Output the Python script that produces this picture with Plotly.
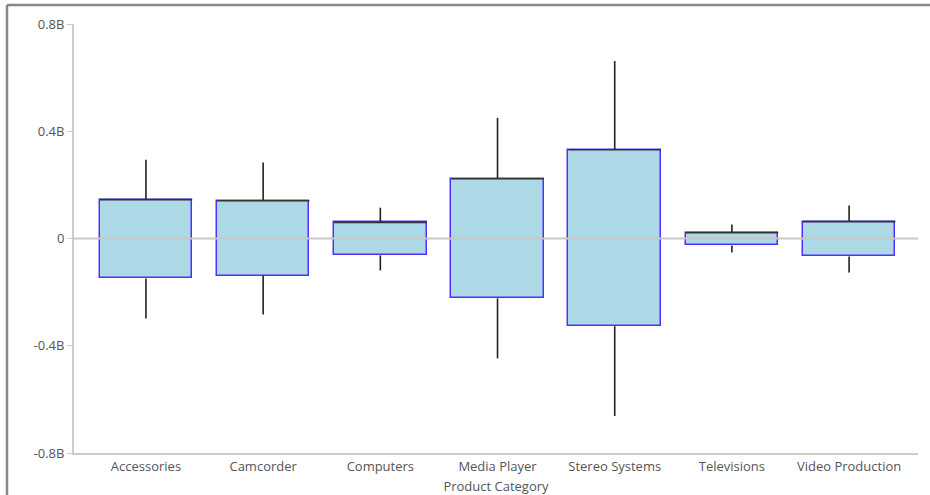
import plotly.graph_objects as go

categories = ["Accessories", "Camcorder", "Computers", "Media Player",
              "Stereo Systems", "Televisions", "Video Production"]
whisker_high = [0.294e9, 0.283e9, 0.115e9, 0.450e9, 0.662e9, 0.052e9, 0.123e9]
box_high = [0.145e9, 0.141e9, 0.060e9, 0.223e9, 0.331e9, 0.022e9, 0.063e9]
box_low = [-0.149e9, -0.138e9, -0.063e9, -0.223e9, -0.327e9, -0.026e9, -0.067e9]
whisker_low = [-0.298e9, -0.283e9, -0.119e9, -0.447e9, -0.662e9, -0.052e9, -0.127e9]
y_tickvals = [-0.8e9, -0.4e9, 0, 0.4e9, 0.8e9]
y_ticktext = ["-0.8B", "-0.4B", "0", "0.4B", "0.8B"]

xs = list(range(len(categories)))
box_w = 0.79

fig = go.Figure()

# whiskers
wx, wy = [], []
for i in xs:
    wx += [i, i, None, i, i, None]
    wy += [box_high[i], whisker_high[i], None, box_low[i], whisker_low[i], None]
fig.add_trace(go.Scatter(x=wx, y=wy, mode="lines",
                         line=dict(color="#222222", width=1.6),
                         hoverinfo="skip", showlegend=False))

# boxes
fig.add_trace(go.Bar(x=xs, y=[h - l for h, l in zip(box_high, box_low)], base=box_low,
                     width=box_w, marker=dict(color="#add8e6",
                                              line=dict(color="#5030ff", width=1.5)),
                     showlegend=False))

# top edges
tx, ty = [], []
for i in xs:
    tx += [i - box_w / 2, i + box_w / 2, None]
    ty += [box_high[i], box_high[i], None]
fig.add_trace(go.Scatter(x=tx, y=ty, mode="lines",
                         line=dict(color="#333333", width=1.6),
                         hoverinfo="skip", showlegend=False))

L, R, T, B = 74, 12, 24, 42
W, H = 930, 495
pw, ph = W - L - R, H - T - B
px_left = (7 - L) / pw
py_top = 1 + (T - 5) / ph

fig.update_layout(
    width=W, height=H,
    margin=dict(l=L, r=R, t=T, b=B),
    paper_bgcolor="white", plot_bgcolor="white",
    font=dict(family="Open Sans, Noto Sans, sans-serif", size=13, color="#555555"),
    bargap=0,
    xaxis=dict(tickvals=xs, ticktext=categories, range=[-0.614, 6.588],
               automargin=False,
               showgrid=False, zeroline=False, showline=True, linecolor="#cccccc",
               linewidth=2, ticks="", ticklabelstandoff=0,
               tickfont=dict(size=13, color="#555555"),
               title=dict(text="Product Category", standoff=8,
                          font=dict(size=13, color="#555555"))),
    yaxis=dict(tickvals=y_tickvals, ticktext=y_ticktext, range=[-0.8e9, 0.8e9],
               automargin=False,
               showgrid=False, zeroline=False, showline=True, linecolor="#cccccc",
               linewidth=2, ticks="outside", ticklen=5, tickcolor="#cccccc",
               tickwidth=1, tickfont=dict(size=13, color="#555555")),
    shapes=[
        dict(type="line", xref="paper", yref="y", x0=0, x1=1, y0=0, y1=0,
             line=dict(color="#c8c8c8", width=2), layer="above"),
        dict(type="line", xref="paper", yref="paper", x0=px_left, x1=px_left,
             y0=-0.3, y1=py_top, line=dict(color="#888888", width=2.5)),
        dict(type="line", xref="paper", yref="paper", x0=px_left, x1=1.05,
             y0=py_top, y1=py_top, line=dict(color="#888888", width=2.5)),
    ],
)

fig.write_html("out.html", config={"displayModeBar": False},
               post_script="document.body.style.margin='0';")
